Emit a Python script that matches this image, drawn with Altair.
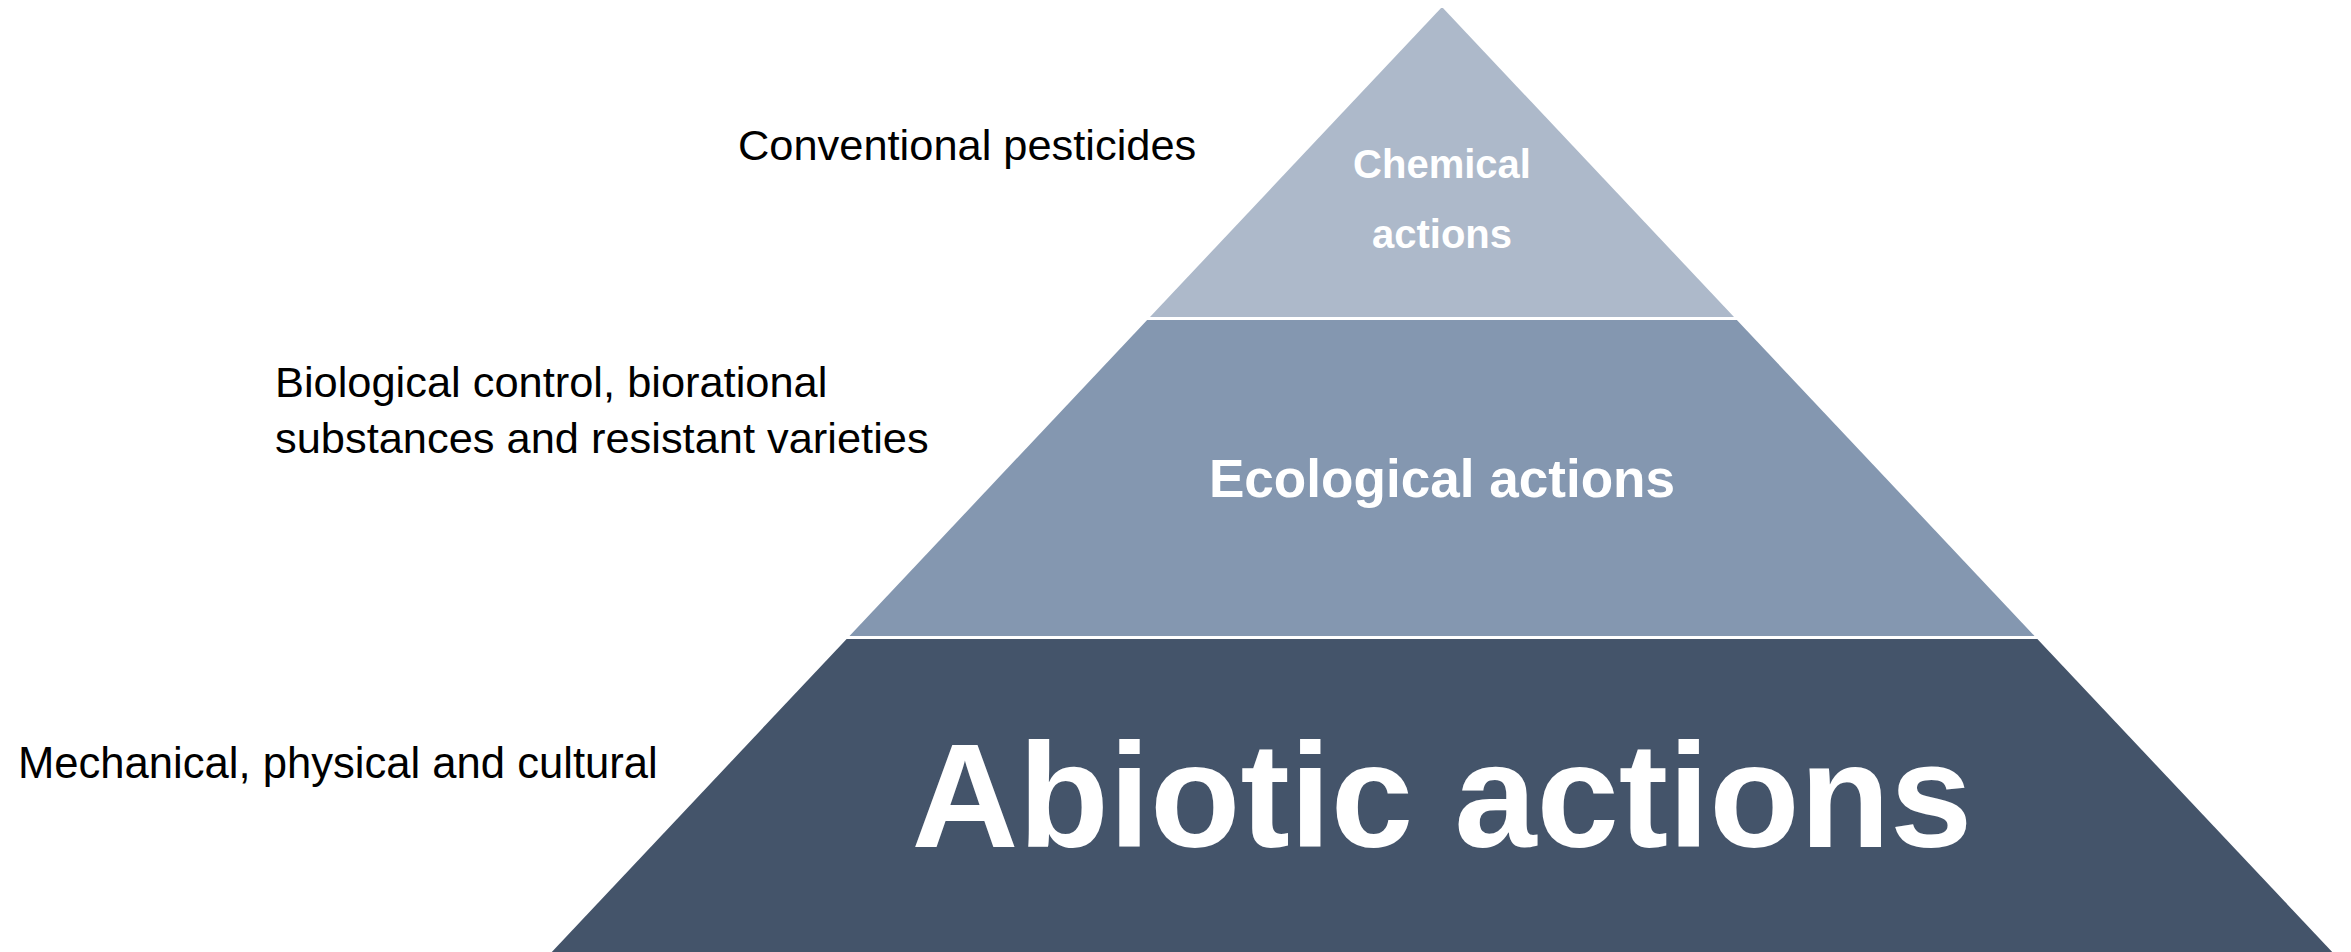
import altair as alt
import pandas as pd

# ---- pyramid geometry (reference pixel coordinates) ----
apex_x = 1442
apex_y = 7
half_width_per_px = 0.942          # horizontal spread per pixel of drop

tier_names = ["Chemical", "Ecological", "Abiotic"]
tier_top = [7, 320, 639]
tier_bottom = [317, 636, 960]
tier_colors = ["#ADB9CA", "#8497B0", "#44546A"]

# ---- labels on the left ----
side_text = ["Conventional pesticides",
             "Biological control, biorational",
             "substances and resistant varieties",
             "Mechanical, physical and cultural"]
side_x = [738, 275, 275, 18]
side_y = [160, 397, 453, 778]
side_size = [43.4, 43.4, 43.4, 43.6]

# ---- labels inside the pyramid ----
tier_text = ["Chemical", "actions", "Ecological actions", "Abiotic actions"]
tier_text_y = [178, 248, 497, 847]
tier_text_size = [40, 40, 53.1, 148]

rows = []
for n, t, b in zip(tier_names, tier_top, tier_bottom):
    for yy in (t, b):
        hw = (yy - apex_y) * half_width_per_px
        rows.append({"tier": n, "y": yy, "xl": apex_x - hw, "xr": apex_x + hw})
poly = pd.DataFrame(rows)

side_df = pd.DataFrame({"text": side_text, "x": side_x, "y": side_y, "fs": side_size})
tier_df = pd.DataFrame({"text": tier_text, "x": [apex_x] * 4, "y": tier_text_y,
                        "fs": tier_text_size})

W, H = 2335, 944
xs = alt.Scale(domain=[8, 8 + W], nice=False, zero=False)
ys = alt.Scale(domain=[8 + H, 8], nice=False, zero=False)

areas = alt.Chart(poly).mark_area(orient="horizontal", opacity=1).encode(
    y=alt.Y("y:Q", scale=ys, axis=None),
    x=alt.X("xl:Q", scale=xs, axis=None),
    x2="xr:Q",
    color=alt.Color("tier:N", scale=alt.Scale(domain=tier_names, range=tier_colors), legend=None),
)

font = "Liberation Sans, Arial, sans-serif"

side = alt.Chart(side_df).mark_text(align="left", baseline="alphabetic", font=font,
                                    color="#000000").encode(
    x=alt.X("x:Q", scale=xs, axis=None),
    y=alt.Y("y:Q", scale=ys, axis=None),
    text="text:N",
    size=alt.Size("fs:Q", scale=None),
)

inner = alt.Chart(tier_df).mark_text(align="center", baseline="alphabetic", font=font,
                                     fontWeight="bold", color="#FFFFFF").encode(
    x=alt.X("x:Q", scale=xs, axis=None),
    y=alt.Y("y:Q", scale=ys, axis=None),
    text="text:N",
    size=alt.Size("fs:Q", scale=None),
)

chart = alt.layer(areas, side, inner).properties(
    width=W, height=H, padding=0, autosize=alt.AutoSizeParams(type="none"),
    background="#FFFFFF",
).configure_view(strokeWidth=0)

chart.save("out.html", embed_options={"renderer": "svg", "actions": False})
